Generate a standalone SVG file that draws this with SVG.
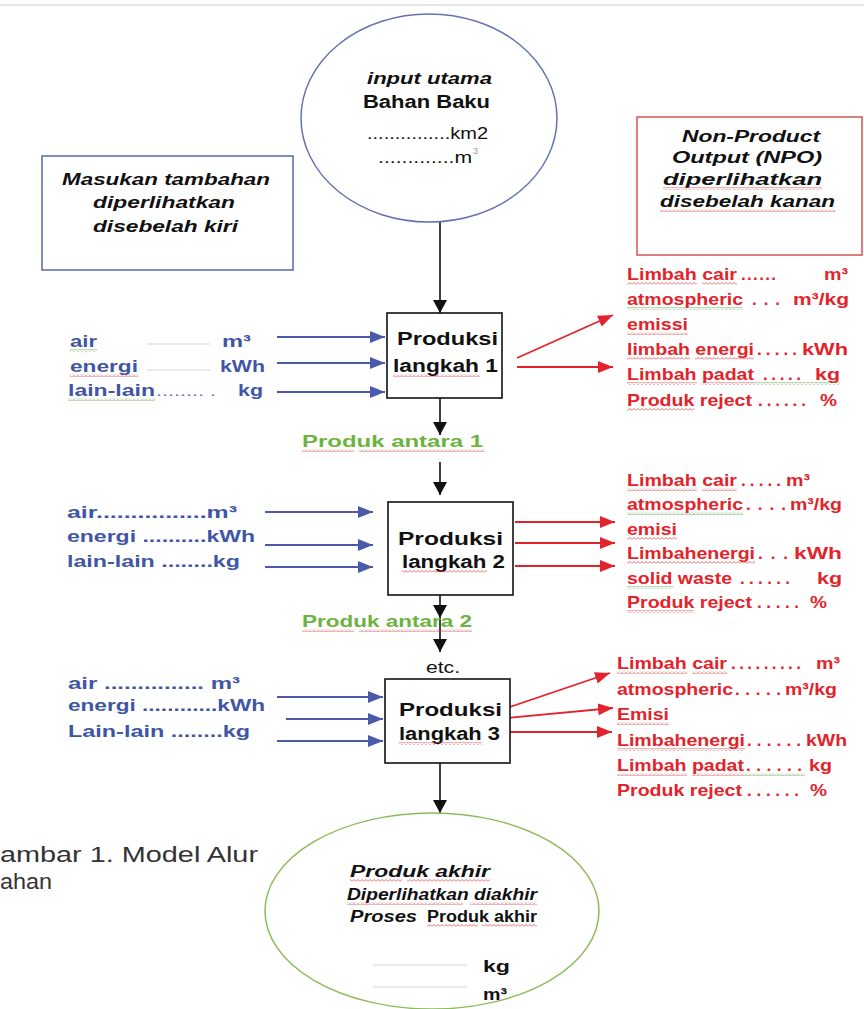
<svg xmlns="http://www.w3.org/2000/svg" width="864" height="1009" viewBox="0 0 864 1009">
<defs>
<style>
text{font-family:"Liberation Sans",Arial,sans-serif}
.b{font-weight:bold}
.bi{font-weight:bold;font-style:italic}
.k{fill:#111}
.bl{fill:#3f56a4}
.rd{fill:#e3232b;font-weight:bold;font-size:17px}
.gr{fill:#6db33f}
.gy{fill:#333}
.ln{stroke:#d4d4d4;stroke-width:1}
.ca{stroke:#111;stroke-width:1.6;fill:none}
.cb{stroke:#4a5aa8;stroke-width:1.8;fill:none}
.cr{stroke:#e3232b;stroke-width:1.8;fill:none}
.sr{fill:url(#wr)}
.sg{fill:url(#wg)}
</style>
<pattern id="wr" width="4" height="3" patternUnits="userSpaceOnUse"><path d="M0,2.5 L2,0.5 L4,2.5" fill="none" stroke="#e04040" stroke-width="0.8"/></pattern>
<pattern id="wg" width="4" height="3" patternUnits="userSpaceOnUse"><path d="M0,2.5 L2,0.5 L4,2.5" fill="none" stroke="#5aa040" stroke-width="0.8"/></pattern>
<marker id="ak" markerUnits="userSpaceOnUse" markerWidth="13" markerHeight="14" refX="13" refY="7" orient="auto"><path d="M0,0 L13,7 L0,14 z" fill="#111"/></marker>
<marker id="ab" markerUnits="userSpaceOnUse" markerWidth="15" markerHeight="12" refX="15" refY="6" orient="auto"><path d="M0,0 L15,6 L0,12 z" fill="#4a5aa8"/></marker>
<marker id="ar" markerUnits="userSpaceOnUse" markerWidth="15" markerHeight="12" refX="15" refY="6" orient="auto"><path d="M0,0 L15,6 L0,12 z" fill="#e3232b"/></marker>
</defs>
<rect width="864" height="1009" fill="#fff"/>
<line x1="0" y1="5" x2="864" y2="5" stroke="#dcdcdc" stroke-width="1.5"/>

<g id="caption">
<text class="gy" x="0" y="862" font-size="22" textLength="258" lengthAdjust="spacingAndGlyphs">ambar 1. Model Alur</text>
<text class="gy" x="0" y="889" font-size="22" textLength="52" lengthAdjust="spacingAndGlyphs">ahan</text>
</g>

<g id="connectors">
<line class="ca" x1="440" y1="222" x2="440" y2="313" marker-end="url(#ak)"/>
<line class="ca" x1="440" y1="398" x2="440" y2="435" marker-end="url(#ak)"/>
<line class="ca" x1="440" y1="462" x2="440" y2="495" marker-end="url(#ak)"/>
<line class="ca" x1="440" y1="595" x2="440" y2="618" marker-end="url(#ak)"/>
<line class="ca" x1="440" y1="618" x2="440" y2="652" marker-end="url(#ak)"/>
<line class="ca" x1="440" y1="763" x2="440" y2="813" marker-end="url(#ak)"/>
<line class="cb" x1="277" y1="337" x2="385" y2="337" marker-end="url(#ab)"/>
<line class="cb" x1="277" y1="363" x2="385" y2="363" marker-end="url(#ab)"/>
<line class="cb" x1="277" y1="392" x2="385" y2="392" marker-end="url(#ab)"/>
<line class="cb" x1="265" y1="512" x2="373" y2="512" marker-end="url(#ab)"/>
<line class="cb" x1="265" y1="545" x2="373" y2="545" marker-end="url(#ab)"/>
<line class="cb" x1="265" y1="567" x2="373" y2="567" marker-end="url(#ab)"/>
<line class="cb" x1="277" y1="697" x2="383" y2="697" marker-end="url(#ab)"/>
<line class="cb" x1="286" y1="719" x2="383" y2="719" marker-end="url(#ab)"/>
<line class="cb" x1="277" y1="741" x2="383" y2="741" marker-end="url(#ab)"/>
<line class="cr" x1="517" y1="358" x2="613" y2="315" marker-end="url(#ar)"/>
<line class="cr" x1="517" y1="367" x2="613" y2="367" marker-end="url(#ar)"/>
<line class="cr" x1="515" y1="522" x2="615" y2="522" marker-end="url(#ar)"/>
<line class="cr" x1="515" y1="543" x2="615" y2="543" marker-end="url(#ar)"/>
<line class="cr" x1="515" y1="566" x2="615" y2="566" marker-end="url(#ar)"/>
<line class="cr" x1="507" y1="708" x2="610" y2="673" marker-end="url(#ar)"/>
<line class="cr" x1="507" y1="718" x2="613" y2="708" marker-end="url(#ar)"/>
<line class="cr" x1="507" y1="732" x2="612" y2="732" marker-end="url(#ar)"/>
</g>

<g id="input-utama">
<ellipse cx="429" cy="118" rx="128" ry="104" fill="none" stroke="#6572b0" stroke-width="1.5"/>
<text class="bi k" x="367" y="84" font-size="16" textLength="125" lengthAdjust="spacingAndGlyphs">input utama</text>
<text class="b k" x="363" y="108" font-size="18" textLength="127" lengthAdjust="spacingAndGlyphs">Bahan Baku</text>
<text class="k" x="367" y="139" font-size="16" textLength="121" lengthAdjust="spacingAndGlyphs">...............km2</text>
<text class="k" x="378" y="163" font-size="16" textLength="94" lengthAdjust="spacingAndGlyphs">.............m</text>
<text fill="#999" x="473" y="154" font-size="9">3</text>
</g>

<g id="masukan-tambahan">
<rect x="42" y="156" width="251" height="114" fill="none" stroke="#5a68a8" stroke-width="1.5"/>
<text class="bi k" x="62" y="185" font-size="16" textLength="208" lengthAdjust="spacingAndGlyphs">Masukan tambahan</text>
<text class="bi k" x="93" y="208" font-size="16" textLength="142" lengthAdjust="spacingAndGlyphs">diperlihatkan</text>
<text class="bi k" x="93" y="232" font-size="16" textLength="145" lengthAdjust="spacingAndGlyphs">disebelah kiri</text>
</g>

<g id="npo">
<rect x="637" y="117" width="225" height="138" fill="none" stroke="#d05555" stroke-width="1.5"/>
<text class="bi k" x="682" y="142" font-size="16" textLength="138" lengthAdjust="spacingAndGlyphs">Non-Product</text>
<text class="bi k" x="672" y="163" font-size="16" textLength="150" lengthAdjust="spacingAndGlyphs">Output (NPO)</text>
<text class="bi k" x="663" y="185" font-size="16" textLength="159" lengthAdjust="spacingAndGlyphs">diperlihatkan</text>
<text class="bi k" x="660" y="207" font-size="16" textLength="175" lengthAdjust="spacingAndGlyphs">disebelah kanan</text>
<rect class="sr" x="663" y="187" width="159" height="3"/>
<rect class="sr" x="660" y="209" width="175" height="3"/>
</g>

<g id="inputs-1">
<text class="b bl" x="70" y="347" font-size="17" textLength="27" lengthAdjust="spacingAndGlyphs">air</text>
<line class="ln" x1="147" y1="344" x2="210" y2="344"/>
<text class="b bl" x="222" y="347" font-size="17" textLength="29" lengthAdjust="spacingAndGlyphs">m³</text>
<text class="b bl" x="70" y="372" font-size="17" textLength="68" lengthAdjust="spacingAndGlyphs">energi</text>
<line class="ln" x1="147" y1="370" x2="210" y2="370"/>
<text class="b bl" x="220" y="372" font-size="17" textLength="45" lengthAdjust="spacingAndGlyphs">kWh</text>
<text class="b bl" x="68" y="396" font-size="17" textLength="87" lengthAdjust="spacingAndGlyphs">lain-lain</text>
<text fill="#6a78b4" x="156" y="396" font-size="15" textLength="60" lengthAdjust="spacingAndGlyphs">........ .</text>
<text class="b bl" x="238" y="396" font-size="17" textLength="25" lengthAdjust="spacingAndGlyphs">kg</text>
<rect class="sg" x="70" y="349" width="27" height="3"/>
<rect class="sr" x="70" y="374" width="68" height="3"/>
<rect class="sg" x="68" y="398" width="87" height="3"/>
</g>

<g id="produksi-1">
<rect x="387" y="313" width="115" height="85" fill="#fff" stroke="#111" stroke-width="1.6"/>
<text class="b k" x="397" y="345" font-size="18" textLength="101" lengthAdjust="spacingAndGlyphs">Produksi</text>
<text class="b k" x="393" y="372" font-size="18" textLength="105" lengthAdjust="spacingAndGlyphs">langkah 1</text>
<rect class="sr" x="393" y="374" width="87" height="3"/>
</g>

<g id="npo-1">
<text class="rd" x="627" y="280" textLength="110" lengthAdjust="spacingAndGlyphs">Limbah cair</text>
<text class="rd" x="741" y="280" textLength="35" lengthAdjust="spacing">......</text>
<text class="rd" x="824" y="280" textLength="24" lengthAdjust="spacingAndGlyphs">m³</text>
<text class="rd" x="627" y="305" textLength="116" lengthAdjust="spacingAndGlyphs">atmospheric</text>
<text class="rd" x="752" y="305" textLength="28" lengthAdjust="spacing">...</text>
<text class="rd" x="793" y="305" textLength="56" lengthAdjust="spacingAndGlyphs">m³/kg</text>
<text class="rd" x="627" y="330" textLength="61" lengthAdjust="spacingAndGlyphs">emissi</text>
<text class="rd" x="627" y="355" textLength="127" lengthAdjust="spacingAndGlyphs">limbah energi</text>
<text class="rd" x="757" y="355" textLength="40" lengthAdjust="spacing">.....</text>
<text class="rd" x="802" y="355" textLength="46" lengthAdjust="spacingAndGlyphs">kWh</text>
<text class="rd" x="627" y="380" textLength="127" lengthAdjust="spacingAndGlyphs">Limbah padat</text>
<text class="rd" x="763" y="380" textLength="38" lengthAdjust="spacing">.....</text>
<text class="rd" x="815" y="380" textLength="25" lengthAdjust="spacingAndGlyphs">kg</text>
<text class="rd" x="627" y="406" textLength="125" lengthAdjust="spacingAndGlyphs">Produk reject</text>
<text class="rd" x="758" y="406" textLength="48" lengthAdjust="spacing">......</text>
<text class="rd" x="820" y="406" textLength="17" lengthAdjust="spacingAndGlyphs">%</text>
<rect class="sr" x="627" y="282" width="70" height="3"/>
<rect class="sr" x="702" y="282" width="35" height="3"/>
<rect class="sg" x="627" y="307" width="116" height="3"/>
<rect class="sr" x="627" y="332" width="61" height="3"/>
<rect class="sr" x="627" y="357" width="63" height="3"/>
<rect class="sr" x="695" y="357" width="59" height="3"/>
<rect class="sr" x="627" y="382" width="70" height="3"/>
<rect class="sr" x="702" y="382" width="52" height="3"/>
<rect class="sg" x="754" y="382" width="86" height="3"/>
<rect class="sr" x="627" y="408" width="67" height="3"/>
</g>

<g id="produk-antara-1">
<text class="b gr" x="302" y="447" font-size="17" textLength="181" lengthAdjust="spacingAndGlyphs">Produk antara  1</text>
<rect class="sr" x="302" y="449" width="52" height="3"/>
<rect class="sr" x="359" y="449" width="126" height="3"/>
</g>

<g id="inputs-2">
<text class="b bl" x="67" y="518" font-size="17" textLength="170" lengthAdjust="spacingAndGlyphs">air................m³</text>
<text class="b bl" x="67" y="542" font-size="17" textLength="188" lengthAdjust="spacingAndGlyphs">energi ..........kWh</text>
<text class="b bl" x="67" y="567" font-size="17" textLength="173" lengthAdjust="spacingAndGlyphs">lain-lain ........kg</text>
</g>

<g id="produksi-2">
<rect x="388" y="502" width="125" height="93" fill="#fff" stroke="#111" stroke-width="1.6"/>
<text class="b k" x="398" y="545" font-size="18" textLength="105" lengthAdjust="spacingAndGlyphs">Produksi</text>
<text class="b k" x="402" y="568" font-size="18" textLength="103" lengthAdjust="spacingAndGlyphs">langkah 2</text>
<rect class="sr" x="402" y="570" width="85" height="3"/>
</g>

<g id="npo-2">
<text class="rd" x="627" y="486" textLength="110" lengthAdjust="spacingAndGlyphs">Limbah cair</text>
<text class="rd" x="741" y="486" textLength="40" lengthAdjust="spacing">.....</text>
<text class="rd" x="786" y="486" textLength="24" lengthAdjust="spacingAndGlyphs">m³</text>
<text class="rd" x="627" y="510" textLength="116" lengthAdjust="spacingAndGlyphs">atmospheric</text>
<text class="rd" x="746" y="510" textLength="40" lengthAdjust="spacing">....</text>
<text class="rd" x="790" y="510" textLength="52" lengthAdjust="spacingAndGlyphs">m³/kg</text>
<text class="rd" x="627" y="535" textLength="50" lengthAdjust="spacingAndGlyphs">emisi</text>
<text class="rd" x="627" y="559" textLength="128" lengthAdjust="spacingAndGlyphs">Limbahenergi</text>
<text class="rd" x="758" y="559" textLength="30" lengthAdjust="spacing">...</text>
<text class="rd" x="794" y="559" textLength="48" lengthAdjust="spacingAndGlyphs">kWh</text>
<text class="rd" x="627" y="584" textLength="105" lengthAdjust="spacingAndGlyphs">solid waste</text>
<text class="rd" x="740" y="584" textLength="50" lengthAdjust="spacing">......</text>
<text class="rd" x="817" y="584" textLength="25" lengthAdjust="spacingAndGlyphs">kg</text>
<text class="rd" x="627" y="608" textLength="125" lengthAdjust="spacingAndGlyphs">Produk reject</text>
<text class="rd" x="757" y="608" textLength="42" lengthAdjust="spacing">.....</text>
<text class="rd" x="810" y="608" textLength="17" lengthAdjust="spacingAndGlyphs">%</text>
<rect class="sr" x="627" y="488" width="70" height="3"/>
<rect class="sr" x="702" y="488" width="35" height="3"/>
<rect class="sg" x="627" y="512" width="116" height="3"/>
<rect class="sr" x="627" y="537" width="50" height="3"/>
<rect class="sr" x="627" y="561" width="128" height="3"/>
<rect class="sg" x="627" y="586" width="46" height="3"/>
<rect class="sr" x="627" y="610" width="67" height="3"/>
</g>

<g id="produk-antara-2">
<text class="b gr" x="302" y="627" font-size="17" textLength="170" lengthAdjust="spacingAndGlyphs">Produk antara 2</text>
<rect class="sr" x="302" y="629" width="52" height="3"/>
<rect class="sr" x="359" y="629" width="113" height="3"/>
</g>

<g id="etc">
<text class="k" x="426" y="673" font-size="16" textLength="34" lengthAdjust="spacingAndGlyphs">etc.</text>
</g>

<g id="inputs-3">
<text class="b bl" x="68" y="689" font-size="17" textLength="172" lengthAdjust="spacingAndGlyphs">air ............... m³</text>
<text class="b bl" x="68" y="711" font-size="17" textLength="197" lengthAdjust="spacingAndGlyphs">energi ............kWh</text>
<text class="b bl" x="68" y="737" font-size="17" textLength="182" lengthAdjust="spacingAndGlyphs">Lain-lain ........kg</text>
</g>

<g id="produksi-3">
<rect x="385" y="679" width="125" height="84" fill="#fff" stroke="#111" stroke-width="1.6"/>
<text class="b k" x="399" y="716" font-size="18" textLength="103" lengthAdjust="spacingAndGlyphs">Produksi</text>
<text class="b k" x="399" y="740" font-size="18" textLength="101" lengthAdjust="spacingAndGlyphs">langkah 3</text>
<rect class="sr" x="399" y="742" width="83" height="3"/>
</g>

<g id="npo-3">
<text class="rd" x="617" y="669" textLength="110" lengthAdjust="spacingAndGlyphs">Limbah cair</text>
<text class="rd" x="731" y="669" textLength="70" lengthAdjust="spacing">.........</text>
<text class="rd" x="816" y="669" textLength="24" lengthAdjust="spacingAndGlyphs">m³</text>
<text class="rd" x="617" y="695" textLength="116" lengthAdjust="spacingAndGlyphs">atmospheric</text>
<text class="rd" x="735" y="695" textLength="46" lengthAdjust="spacing">.....</text>
<text class="rd" x="785" y="695" textLength="52" lengthAdjust="spacingAndGlyphs">m³/kg</text>
<text class="rd" x="617" y="720" textLength="52" lengthAdjust="spacingAndGlyphs">Emisi</text>
<text class="rd" x="617" y="746" textLength="128" lengthAdjust="spacingAndGlyphs">Limbahenergi</text>
<text class="rd" x="747" y="746" textLength="54" lengthAdjust="spacing">......</text>
<text class="rd" x="806" y="746" textLength="41" lengthAdjust="spacingAndGlyphs">kWh</text>
<text class="rd" x="617" y="771" textLength="127" lengthAdjust="spacingAndGlyphs">Limbah padat</text>
<text class="rd" x="746" y="771" textLength="56" lengthAdjust="spacing">......</text>
<text class="rd" x="809" y="771" textLength="23" lengthAdjust="spacingAndGlyphs">kg</text>
<text class="rd" x="617" y="796" textLength="125" lengthAdjust="spacingAndGlyphs">Produk reject</text>
<text class="rd" x="747" y="796" textLength="52" lengthAdjust="spacing">......</text>
<text class="rd" x="810" y="796" textLength="17" lengthAdjust="spacingAndGlyphs">%</text>
<rect class="sr" x="617" y="671" width="70" height="3"/>
<rect class="sr" x="692" y="671" width="35" height="3"/>
<rect class="sr" x="617" y="722" width="52" height="3"/>
<rect class="sr" x="617" y="748" width="128" height="3"/>
<rect class="sr" x="617" y="773" width="70" height="3"/>
<rect class="sr" x="692" y="773" width="52" height="3"/>
<rect class="sg" x="744" y="773" width="61" height="3"/>
</g>

<g id="produk-akhir">
<ellipse cx="432" cy="911" rx="167" ry="98" fill="none" stroke="#8dbb5a" stroke-width="1.5"/>
<text class="bi k" x="350" y="877" font-size="16" textLength="140" lengthAdjust="spacingAndGlyphs">Produk akhir</text>
<text class="bi k" x="347" y="900" font-size="16" textLength="190" lengthAdjust="spacingAndGlyphs">Diperlihatkan diakhir</text>
<text class="bi k" x="350" y="922" font-size="16" textLength="67" lengthAdjust="spacingAndGlyphs">Proses</text>
<text class="b k" x="427" y="922" font-size="16" textLength="110" lengthAdjust="spacingAndGlyphs">Produk akhir</text>
<rect class="sr" x="350" y="879" width="52" height="3"/>
<rect class="sr" x="407" y="879" width="83" height="3"/>
<rect class="sr" x="347" y="902" width="116" height="3"/>
<rect class="sr" x="470" y="902" width="67" height="3"/>
<rect class="sr" x="427" y="924" width="51" height="3"/>
<rect class="sr" x="482" y="924" width="55" height="3"/>
<line class="ln" x1="373" y1="965" x2="467" y2="965"/>
<line class="ln" x1="373" y1="987" x2="467" y2="987"/>
<text class="b k" x="483" y="972" font-size="17" textLength="27" lengthAdjust="spacingAndGlyphs">kg</text>
<text class="b k" x="483" y="1000" font-size="17" textLength="24" lengthAdjust="spacingAndGlyphs">m³</text>
</g>
</svg>
